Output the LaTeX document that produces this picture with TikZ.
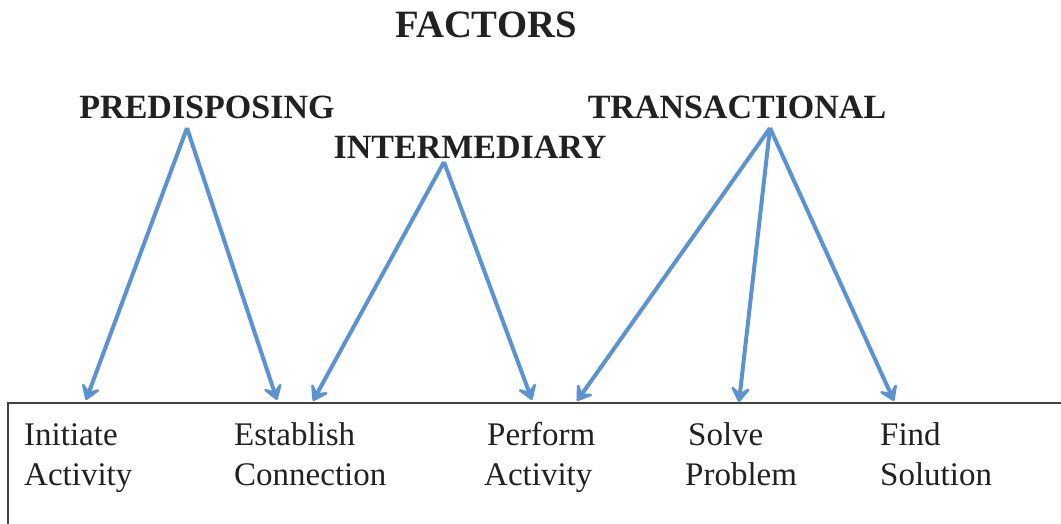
\documentclass[tikz,border=0pt]{standalone}
\usepackage{fontspec}
\setmainfont{Liberation Serif}
\usetikzlibrary{arrows.meta}
\definecolor{arrowblue}{RGB}{91,146,208}
\definecolor{inkgray}{RGB}{35,32,33}
\tikzset{
  factor/.style={font=\fontsize{34}{40}\selectfont\bfseries, text=inkgray, inner sep=0pt},
  step label/.style={font=\fontsize{33}{40}\selectfont, text=inkgray, align=left, anchor=base west, inner sep=0pt},
  arr/.style={arrowblue, line width=4pt, -{Stealth[round,length=19pt,width=25pt,inset=9pt]}}
}
\begin{document}
\begin{tikzpicture}[x=1pt, y=-1pt]
\useasboundingbox (0,0) rectangle (1061,523);
\draw[inkgray!85, line width=1.8pt] (8,530) |- (1070,403);
\node[factor, font=\fontsize{38.7}{44}\selectfont\bfseries] (fac) at (486,25) {FACTORS};
\node[factor] (pre) at (207,107) {PREDISPOSING};
\node[factor] (int) at (470,147) {INTERMEDIARY};
\node[factor] (tra) at (737,107) {TRANSACTIONAL};
\node[step label] (init) at (24,485)  {Initiate\\Activity};
\node[step label] (est)  at (234,485) {Establish\\Connection};
\node[step label] (perf) at (484,485) {\hspace*{3pt}Perform\\Activity};
\node[step label] (solv) at (685,485) {\hspace*{3pt}Solve\\Problem};
\node[step label] (find) at (880,485) {Find\\Solution};
\coordinate (preTop) at (187,128);
\coordinate (intTop) at (444,162);
\coordinate (traTop) at (770,128);
\coordinate (eInit) at (86,400);
\coordinate (eEst1) at (277,400);
\coordinate (eEst2) at (313,401);
\coordinate (ePerf1) at (532,400);
\coordinate (ePerf2) at (577,401);
\coordinate (eSolv) at (739,402);
\coordinate (eFind) at (894,401);
\path[arr]
    (preTop) edge (eInit)
    (preTop) edge (eEst1)
    (intTop) edge (eEst2)
    (intTop) edge (ePerf1)
    (traTop) edge (ePerf2)
    (traTop) edge (eSolv)
    (traTop) edge (eFind);
\end{tikzpicture}
\end{document}
